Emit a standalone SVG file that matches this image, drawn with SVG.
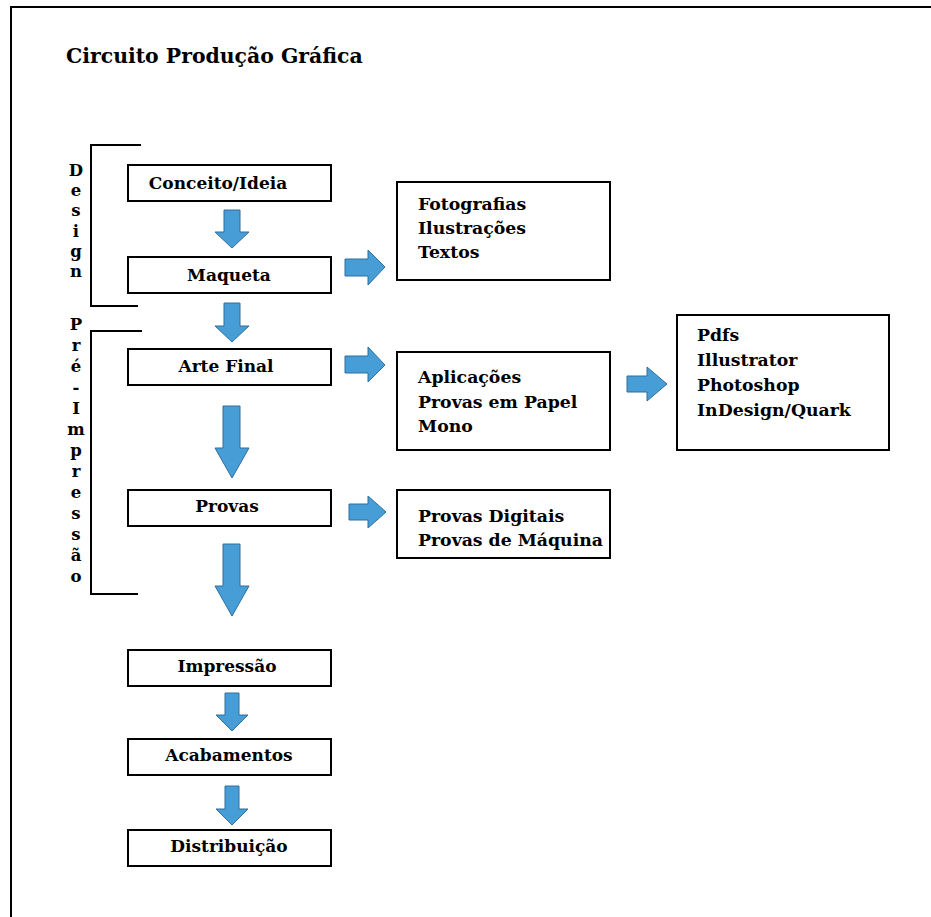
<svg xmlns="http://www.w3.org/2000/svg" width="931" height="917" viewBox="0 0 931 917">
<style>
text{font-family:"DejaVu Serif","Liberation Serif",serif;font-weight:bold;fill:#000}
.lbl{font-size:17px;text-anchor:middle}
.lst{font-size:17.3px}
.vt{font-size:16.5px;text-anchor:middle}
.box{fill:#fff;stroke:#000;stroke-width:2}
.br{fill:none;stroke:#000;stroke-width:2}
.ar{fill:#479dd6;stroke:#2f6f9f;stroke-width:1}
</style>
<rect width="931" height="917" fill="#fff"/>
<path d="M11,917 V7 H931" fill="none" stroke="#000" stroke-width="2"/>
<text x="66" y="63" style="font-size:20.4px">Circuito Produção Gráfica</text>

<g id="design-phase">
<path class="br" d="M141,145 H91 V306 H138"/>
<text class="vt"><tspan x="76" y="176">D</tspan><tspan x="76" y="196">e</tspan><tspan x="76" y="216">s</tspan><tspan x="76" y="237">i</tspan><tspan x="76" y="257">g</tspan><tspan x="76" y="277">n</tspan></text>
</g>
<g id="pre-impressao-phase">
<path class="br" d="M142,331 H91 V594 H138"/>
<text class="vt"><tspan x="76" y="330">P</tspan><tspan x="76" y="351">r</tspan><tspan x="76" y="372">é</tspan><tspan x="76" y="393">-</tspan><tspan x="76" y="414">I</tspan><tspan x="76" y="435">m</tspan><tspan x="76" y="456">p</tspan><tspan x="76" y="477">r</tspan><tspan x="76" y="498">e</tspan><tspan x="76" y="519">s</tspan><tspan x="76" y="540">s</tspan><tspan x="76" y="561">ã</tspan><tspan x="76" y="582">o</tspan></text>
</g>

<g id="conceito"><rect class="box" x="128" y="165" width="203" height="36"/><text class="lbl" x="218" y="189">Conceito/Ideia</text></g>
<g id="maqueta"><rect class="box" x="128" y="257" width="203" height="36"/><text class="lbl" x="229" y="281">Maqueta</text></g>
<g id="arte-final"><rect class="box" x="128" y="349" width="203" height="36"/><text class="lbl" x="226" y="372">Arte Final</text></g>
<g id="provas"><rect class="box" x="128" y="490" width="203" height="36"/><text class="lbl" x="227" y="512">Provas</text></g>
<g id="impressao"><rect class="box" x="128" y="650" width="203" height="36"/><text class="lbl" x="227" y="672">Impressão</text></g>
<g id="acabamentos"><rect class="box" x="128" y="739" width="203" height="36"/><text class="lbl" x="229" y="761">Acabamentos</text></g>
<g id="distribuicao"><rect class="box" x="128" y="830" width="203" height="36"/><text class="lbl" x="229" y="852">Distribuição</text></g>

<g id="materiais"><rect class="box" x="397" y="182" width="213" height="98"/><text class="lst"><tspan x="418" y="210">Fotografias</tspan><tspan x="418" y="234">Ilustrações</tspan><tspan x="418" y="258">Textos</tspan></text></g>
<g id="aplicacoes"><rect class="box" x="397" y="352" width="213" height="98"/><text class="lst"><tspan x="418" y="383">Aplicações</tspan><tspan x="418" y="408">Provas em Papel</tspan><tspan x="418" y="432">Mono</tspan></text></g>
<g id="software"><rect class="box" x="677" y="315" width="212" height="135"/><text class="lst"><tspan x="697" y="341">Pdfs</tspan><tspan x="697" y="366">Illustrator</tspan><tspan x="697" y="391">Photoshop</tspan><tspan x="697" y="416">InDesign/Quark</tspan></text></g>
<g id="tipos-provas"><rect class="box" x="397" y="490" width="213" height="68"/><text class="lst"><tspan x="418" y="522">Provas Digitais</tspan><tspan x="418" y="546">Provas de Máquina</tspan></text></g>

<g id="connectors">
<polygon class="ar" points="224,210 240,210 240,232 249,232 232,248 215,232 224,232"/>
<polygon class="ar" points="224,303 240,303 240,326 249,326 232,342 215,326 224,326"/>
<polygon class="ar" points="223,406 240,406 240,448 249,448 232,478 215,448 223,448"/>
<polygon class="ar" points="223,544 240,544 240,586 249,586 232,616 215,586 223,586"/>
<polygon class="ar" points="225,693 239,693 239,715 248,715 232,731 216,715 225,715"/>
<polygon class="ar" points="225,786 239,786 239,809 248,809 232,825 216,809 225,809"/>
<polygon class="ar" points="345,259 368,259 368,250 385,267 368,285 368,276 345,276"/>
<polygon class="ar" points="345,356 368,356 368,347 385,365 368,382 368,373 345,373"/>
<polygon class="ar" points="627,376 647,376 647,367 667,384 647,401 647,392 627,392"/>
<polygon class="ar" points="349,504 368,504 368,496 386,512 368,528 368,520 349,520"/>
</g>
</svg>
